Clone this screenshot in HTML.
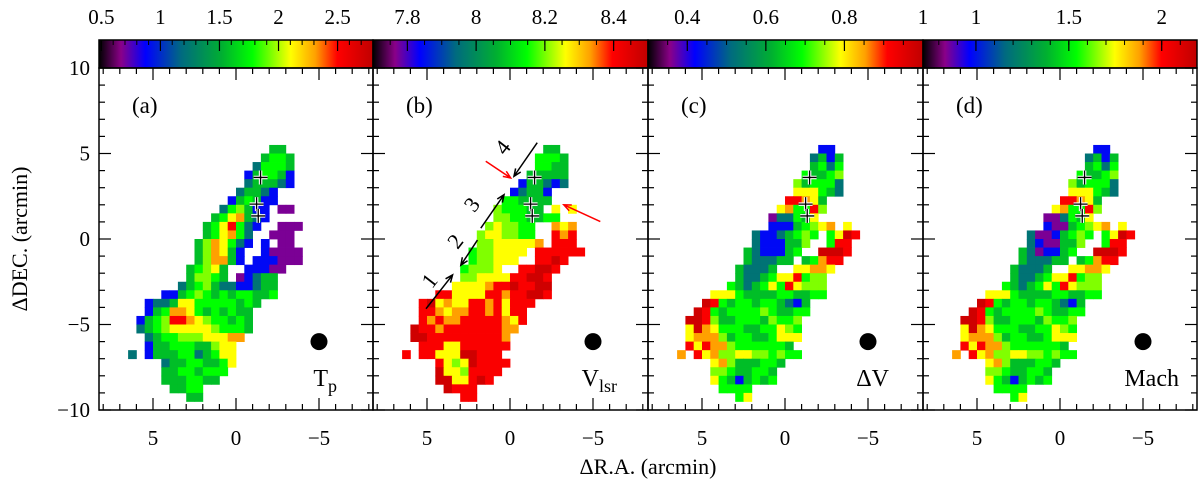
<!DOCTYPE html>
<html><head><meta charset="utf-8"><style>
html,body{margin:0;padding:0;background:#fff;}
svg{display:block;font-family:"Liberation Serif",serif;}
</style></head><body>
<svg id="chart" width="1200" height="481" viewBox="0 0 1200 481" xmlns="http://www.w3.org/2000/svg">
<defs>
<linearGradient id="cmap" x1="0" x2="1" y1="0" y2="0">
<stop offset="0" stop-color="#000000"/><stop offset="0.08" stop-color="#8a0088"/>
<stop offset="0.17" stop-color="#0000ff"/><stop offset="0.3" stop-color="#006a80"/>
<stop offset="0.45" stop-color="#00b030"/><stop offset="0.56" stop-color="#00ff00"/>
<stop offset="0.7" stop-color="#ffff00"/><stop offset="0.79" stop-color="#ffa000"/>
<stop offset="0.87" stop-color="#ff0000"/><stop offset="1" stop-color="#c00000"/>
</linearGradient>
</defs>
</svg>
<script>
// ---- data ----
const panelIds = ['a','b','c','d'];
const cbarMin = [0.48, 7.70, 0.30, 0.715];
const cbarMax = [2.80, 8.50, 1.00, 2.19];
const cbarTicksA = [0.5,1,1.5,2,2.5];
const cbarTicksB = [7.8,8,8.2,8.4];
const cbarTicksC = [0.4,0.6,0.8,1];
const cbarTicksD = [1,1.5,2];
const cbarMinorStep = [0.1,0.05,0.05,0.1];
const xTicks = [5,0,-5];
const yTicks = [10,5,0,-5,-10];
// quantised map levels (0=purple ... 9=dark red), one string per 0.5' row from y=5.5 down
const startsA = [18,17,16,15,15,14,13,12,11,10,10,9,9,9,8,8,7,5,3,3,2,2,3,3,1,5,5,5,6,8];
const valsA = ["33","3443","24443","134431","233321","23321","134311","245311.00","3467321","3468421..000","346742..000","3576421.1.00","357631..10000","357731.111000","34563..11100","35543.01233","234532211233","11345434344334","12236644444343","1347764343433","13458876544343","23456666654443","234455566677","13344433566","2.13334423466","233443346","33443444","3334433","3344","33"];
const startsB = [18,17,17,16,15,14,13,12,12,11,10,10,9,9,8,8,7,5,3,3,3,2,2,3,1,5,5,5,6,8];
const valsB = ["33","4443","4433","33333","133212","12331","443333","544433.6.6","55443344","565544..767","5665544..878","55666667.888","4556666.888888","455666..8898","45556..88998","55666688998","666678898899","88666688788998","89676688786888","8876778878688","8787788888768","9887888888877","998888888887","88866888888","8.8866699888","865698888","96658888","9966898","9888","88"];
const startsC = [18,17,17,16,15,15,14,13,12,12,10,10,9,9,8,8,7,5,4,3,2,2,2,2,1,5,5,5,6,8];
const valsC = ["11","2313","3424","43345","534442","666432","88763","674485","022436","11134567.6","21123454.4698","2111335..488","3211134..9998","322233.34788","32223..66776","32234668455","432346486555","66643333443344","9843443443213","98434444543344","99853344435445","69764443344654","67775344334666","8687754444443","7.8675566554544","675333443","55433443","64313434","4444","46"];
const startsD = [18,17,17,16,15,15,14,13,12,12,10,10,9,9,8,8,7,5,4,3,2,2,2,2,1,5,5,5,6,8];
const valsD = ["11","2313","3424","43345","534442","666432","88763","674485","002436","10034567.6","20013454.4698","2100335..488","3201134..9998","322233.34788","32223..66776","32234668455","432346486555","66643333443344","9843443443213","98434444543344","99853344435445","69764443344654","67775344334666","8687754444443","7.8675566554544","675333443","55433443","64313434","4444","46"];
const plusX = [-1.48,-1.24,-1.34];
const plusY = [3.6,2.04,1.35];
const beamX = -5, beamY = -6;

// ---- layout ----
const NS='http://www.w3.org/2000/svg';
const svg=document.getElementById('chart');
const frameL=[99,373,648,923], frameR=[373,648,923,1197];
const centers=[236,510,785,1060];
const plotTop=68, plotBot=410, cbTop=40;
const xs=(p,x)=>centers[p]-x*16.6;
const ys=y=>239-y*17.1;
const levels=[0.09,0.18,0.32,0.47,0.56,0.63,0.70,0.79,0.88,0.97];
const cstops=[[0,[0,0,0]],[0.08,[138,0,136]],[0.17,[0,0,255]],[0.3,[0,106,128]],[0.45,[0,176,48]],[0.56,[0,255,0]],[0.7,[255,255,0]],[0.79,[255,160,0]],[0.87,[255,0,0]],[1,[192,0,0]]];
function cmap(f){for(let k=1;k<cstops.length;k++){if(f<=cstops[k][0]){const a=cstops[k-1],b=cstops[k],t=(f-a[0])/(b[0]-a[0]);return 'rgb('+a[1].map((v,q)=>Math.round(v+(b[1][q]-v)*t)).join(',')+')';}}return 'rgb(192,0,0)';}
function mk(tg,attrs,parent){const e=document.createElementNS(NS,tg);for(const k in attrs)e.setAttribute(k,attrs[k]);(parent||svg).appendChild(e);return e;}
const allStarts=[startsA,startsB,startsC,startsD], allVals=[valsA,valsB,valsC,valsD];
const allCT=[cbarTicksA,cbarTicksB,cbarTicksC,cbarTicksD];

for(let p=0;p<4;p++){
  const g=mk('g',{});
  
  
  const cg=mk('g',{},g);
  
  
  for(let r=0;r<allVals[p].length;r++){
    const s=allVals[p][r], j=r+1;
    for(let c=0;c<s.length;c++){
      const ch=s[c]; if(ch==='.')continue;
      const i=allStarts[p][r]+c;
      const lev=levels[+ch];
      const val=cbarMin[p]+lev*(cbarMax[p]-cbarMin[p]);
      const f=(val-cbarMin[p])/(cbarMax[p]-cbarMin[p]);
      const x0=xs(p,7-0.5*i), x1=xs(p,6.5-0.5*i), y0=ys(6-0.5*j), y1=ys(5.5-0.5*j);
      const rc=mk('rect',{x:x0.toFixed(2),y:y0.toFixed(2),width:(x1-x0+0.4).toFixed(2),height:(y1-y0+0.4).toFixed(2),fill:cmap(f)},cg);
      
      
    }
  }
  const cb=mk('rect',{x:frameL[p],y:cbTop,width:frameR[p]-frameL[p],height:plotTop-cbTop,fill:'url(#cmap)',stroke:'#000','stroke-width':1.5},g);
  
  
  const cbx=v=>frameL[p]+(v-cbarMin[p])/(cbarMax[p]-cbarMin[p])*(frameR[p]-frameL[p]);
  const st=cbarMinorStep[p];
  for(let v=Math.ceil(cbarMin[p]/st)*st;v<cbarMax[p];v+=st){const x=cbx(v);if(x<frameL[p]+2||x>frameR[p]-2)continue;mk('line',{x1:x,x2:x,y1:cbTop,y2:cbTop+5,stroke:'#000','stroke-width':1},g);}
  allCT[p].forEach(v=>{const x=cbx(v);
    if(x>frameL[p]+2&&x<frameR[p]-2) mk('line',{x1:x,x2:x,y1:cbTop,y2:cbTop+11,stroke:'#000','stroke-width':1.2},g);
    const t=mk('text',{x:x,y:24,'font-size':21,'text-anchor':'middle'},g);t.textContent=String(v);
    
    });
  const fr=mk('rect',{x:frameL[p],y:plotTop,width:frameR[p]-frameL[p],height:plotBot-plotTop,fill:'none',stroke:'#000','stroke-width':1.5},g);
  
  
  for(let v=8;v>=-8;v--){const x=xs(p,v);const L=xTicks.includes(v)?12:6;
    mk('line',{x1:x,x2:x,y1:plotTop,y2:plotTop+L,stroke:'#000','stroke-width':1.2},g);
    mk('line',{x1:x,x2:x,y1:plotBot,y2:plotBot-L,stroke:'#000','stroke-width':1.2},g);}
  xTicks.forEach(v=>{const t=mk('text',{x:xs(p,v),y:445,'font-size':21,'text-anchor':'middle'},g);t.textContent=v<0?'\u2212'+(-v):String(v);
    
    });
  for(let v=-10;v<=10;v++){const y=ys(v);const L=yTicks.includes(v)?12:6;
    mk('line',{x1:frameL[p],x2:frameL[p]+L,y1:y,y2:y,stroke:'#000','stroke-width':1.2},g);
    mk('line',{x1:frameR[p],x2:frameR[p]-L,y1:y,y2:y,stroke:'#000','stroke-width':1.2},g);}
  const pl=mk('text',{x:frameL[p]+33,y:113,'font-size':23},g);pl.textContent='('+panelIds[p]+')';
  
  
  const bm=mk('circle',{cx:xs(p,beamX),cy:ys(beamY),r:8.5,fill:'#000'},g);
  
  
  for(let k=0;k<plusX.length;k++){const cx=xs(p,plusX[k]),cy=ys(plusY[k]);
    const pg=mk('g',{},g);
    
    
    mk('path',{d:`M${cx-7} ${cy}H${cx+7}M${cx} ${cy-7}V${cy+7}`,stroke:'#fff','stroke-width':3.5},pg);
    mk('path',{d:`M${cx-7} ${cy}H${cx+7}M${cx} ${cy-7}V${cy+7}`,stroke:'#000','stroke-width':1.3},pg);}
}
function qtag(x,main,sub,name){const t=mk('text',{x:x,y:386,'font-size':24,'text-anchor':'end'});
  
  
  t.appendChild(document.createTextNode(main));
  if(sub){const s=mk('tspan',{'font-size':18,dy:6},t);s.textContent=sub;}}
qtag(337,'T','p','label-tp');
qtag(617,'V','lsr','label-vlsr');
qtag(889,'ΔV','','label-delta-v');
qtag(1179,'Mach','','label-mach');
yTicks.forEach(v=>{const t=mk('text',{x:90,y:ys(v)+7,'font-size':21,'text-anchor':'end'});t.textContent=v<0?'\u2212'+(-v):String(v);
  
  });
const yt=mk('text',{x:0,y:0,'font-size':22,'text-anchor':'middle',transform:'translate(27,239) rotate(-90)'});yt.textContent='ΔDEC. (arcmin)';


const xt=mk('text',{x:648,y:474,'font-size':22,'text-anchor':'middle'});xt.textContent='ΔR.A. (arcmin)';


const arrowFrom=[[5.06,-4.08],[1.96,-0.06],[1.76,0.63],[-1.64,5.63]];
const arrowTo=[[3.46,-2.1],[2.96,-1.53],[0.36,2.59],[-0.24,3.67]];
const arrowLbl=[[4.5,-2.7],[2.95,-0.4],[1.95,1.75],[0.1,5.1]];
const redFrom=[[1.46,4.55],[-5.44,1.02]];
const redTo=[[-0.04,3.57],[-3.24,2.0]];
function arrow(a,b,col,name){const x1=xs(1,a[0]),y1=ys(a[1]),x2=xs(1,b[0]),y2=ys(b[1]);
  const ang=Math.atan2(y2-y1,x2-x1),h=8;
  const d=`M${x1} ${y1}L${x2} ${y2}M${x2-h*Math.cos(ang-0.4)} ${y2-h*Math.sin(ang-0.4)}L${x2} ${y2}L${x2-h*Math.cos(ang+0.4)} ${y2-h*Math.sin(ang+0.4)}`;
  const e=mk('path',{d:d,stroke:col,'stroke-width':1.5,fill:'none'});
  
  }
for(let k=0;k<4;k++){arrow(arrowFrom[k],arrowTo[k],'#000','segment-arrow-'+(k+1));
  const x=xs(1,arrowLbl[k][0]),y=ys(arrowLbl[k][1]);
  const t=mk('text',{x:0,y:0,'font-size':22,'text-anchor':'middle',transform:`translate(${x},${y}) rotate(-52)`});t.textContent=String(k+1);
  
  }
for(let k=0;k<2;k++)arrow(redFrom[k],redTo[k],'#ff0000','red-pointer-arrow');
</script>
</body></html>
